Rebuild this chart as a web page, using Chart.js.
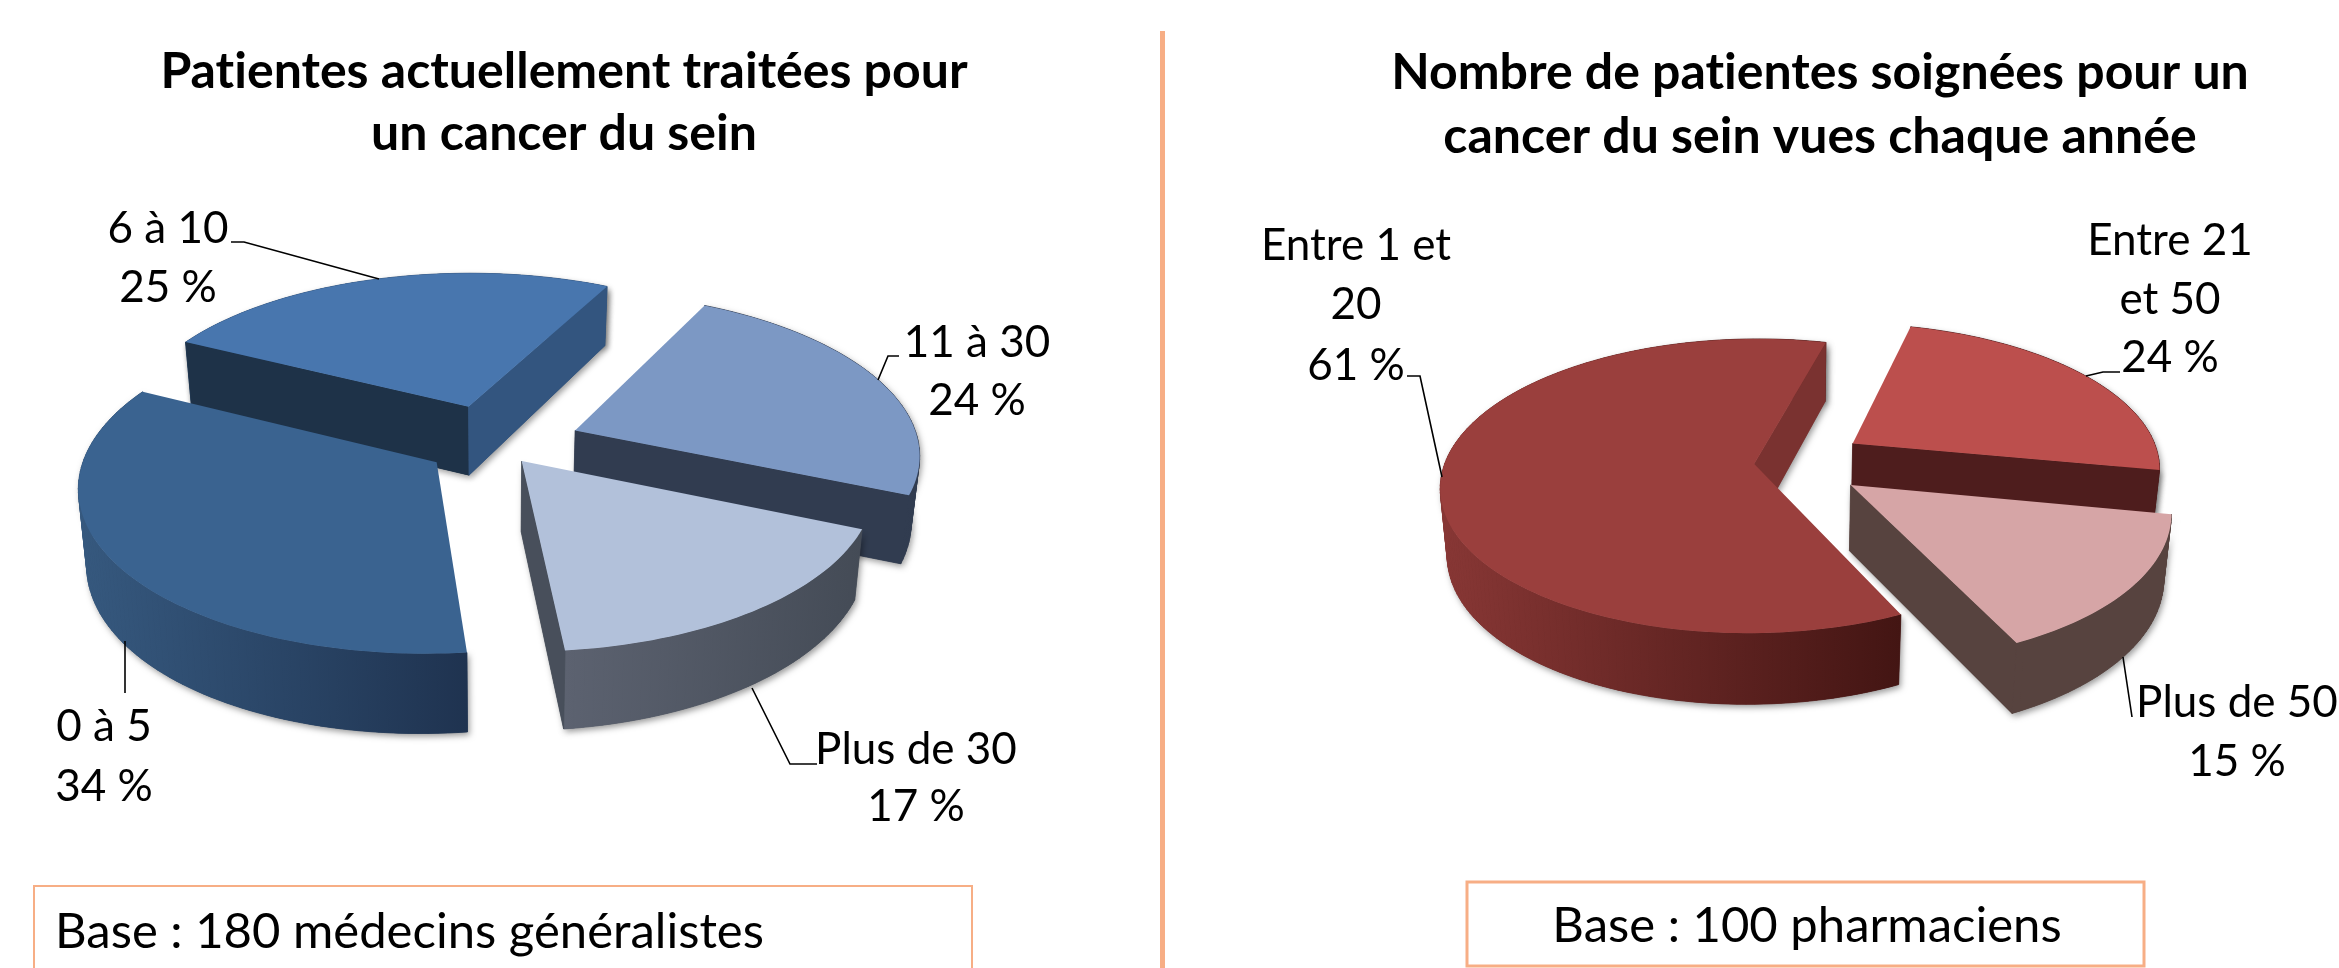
<!DOCTYPE html>
<html><head><meta charset="utf-8">
<script src="https://cdn.jsdelivr.net/npm/chart.js@4"></script>
<style>html,body{margin:0;padding:0;background:#fff;width:2339px;height:968px;overflow:hidden}
canvas{position:absolute;left:0;top:0}</style></head>
<body>
<canvas id="c1" width="2339" height="968"></canvas>
<canvas id="c2" width="2339" height="968"></canvas>
<script>
// ---- data ----
const leftTitle = ["Patientes actuellement traitées pour", "un cancer du sein"];
const leftCategories = ["6 à 10", "11 à 30", "Plus de 30", "0 à 5"];
const leftValues = [25, 24, 17, 34];
const leftBase = "Base : 180 médecins généralistes";

const rightTitle = ["Nombre de patientes soignées pour un", "cancer du sein vues chaque année"];
const rightCategories = ["Entre 1 et 20", "Entre 21 et 50", "Plus de 50"];
const rightValues = [61, 24, 15];
const rightBase = "Base : 100 pharmaciens";

// ---- style / layout ----
const FONT = 'Lato, "Open Sans", sans-serif';
const ORANGE = "#F7AE85";
const leftStyle = {
  rotation: -86.4, explode: [25.1, 25, 13, 20], order: [0, 1, 3, 2],
  view: [494.76, 443.93, 318.17, 63.28, 136.7, -147.45, -0.048, 0.124], depth: [70, -9],
  top: ["#4876AE", "#7C98C4", "#B2C1DA", "#3A6390"],
  startFace: ["#1E3248", "#313C50", "#484F5B", "#1F3350"],
  endFace: ["#33557F", "#313C50", "#484F5B", "#33557F"],
  wall: [["#33557F", "#33557F"], ["#313C50", "#313C50"], ["#5C6270", "#444B56"], ["#36597F", "#1F3350"]],
  titleX: 564, titleY: [72, 134],
  labels: [
    { lines: ["6 à 10"], x: 168, y: 229, pctY: 288 },
    { lines: ["11 à 30"], x: 977, y: 343, pctY: 401 },
    { lines: ["Plus de 30"], x: 916, y: 750, pctY: 807 },
    { lines: ["0 à 5"], x: 104, y: 727, pctY: 787 }
  ],
  leaders: [
    [[231, 242], [244, 242], [379, 279]],
    [[899, 356], [888, 356], [878, 380]],
    [[752, 688], [790, 764], [817, 764]],
    [[125, 641], [125, 693]]
  ],
  box: [34, 886, 938, 90], boxW: 2, baseAlign: "left", baseX: 55, baseY: 932
};
const rightStyle = {
  rotation: 144, explode: [11, 25.3, 25.1], order: [1, 0, 2],
  view: [1788.08, 462.42, 303.09, 27.04, 58.11, -140.77, -0.027, 0.148], depth: [65, -6],
  top: ["#9A3F3D", "#BC4F4D", "#D6A5A6"],
  startFace: ["#7A3230", "#4E1D1D", "#57433F"],
  endFace: ["#7A3230", "#4E1D1D", "#57433F"],
  wall: [["#883735", "#431513"], ["#4E1D1D", "#4E1D1D"], ["#57433F", "#57433F"]],
  titleX: 1820, titleY: [73, 137],
  labels: [
    { lines: ["Entre 1 et", "20"], x: 1356, y: 246, lineGap: 59, pctY: 366 },
    { lines: ["Entre 21", "et 50"], x: 2170, y: 241, lineGap: 59, pctY: 358 },
    { lines: ["Plus de 50"], x: 2237, y: 703, pctY: 762 }
  ],
  leaders: [
    [[1407, 376], [1420, 376], [1442, 477]],
    [[2120, 372], [2103, 372], [2086, 376]],
    [[2123, 657], [2132, 717]]
  ],
  box: [1467, 882, 677, 84], boxW: 3, baseAlign: "center", baseX: 1807, baseY: 926
};

const pie3d = {
  id: "pie3d",
  beforeDatasetsDraw(chart, args, opts) {
    const ctx = chart.ctx, st = opts.style, v = st.view;
    const proj = (pu, pv) => {
      const w = 1 + v[6] * pu + v[7] * pv;
      const x = v[0] + (v[2] * pu + v[4] * pv) / w, y = v[1] + (v[3] * pu + v[5] * pv) / w;
      return { x, y, bx: x + (v[0] - x) * 0.02, by: y + st.depth[0] + st.depth[1] * pv };
    };
    const els = chart.getDatasetMeta(0).data;
    const poly = (pts, bottom) => {
      ctx.beginPath();
      pts.forEach((p, i) => i ? ctx.lineTo(p.x, p.y) : ctx.moveTo(p.x, p.y));
      if (bottom) for (let i = pts.length - 1; i >= 0; i--) ctx.lineTo(pts[i].bx, pts[i].by);
      ctx.closePath();
    };
    st.order.forEach(i => {
      const el = els[i];
      const a0 = el.startAngle, a1 = el.endAngle, mid = (a0 + a1) / 2, o = el.options.offset / 100;
      const ou = o * Math.cos(mid), ov = -o * Math.sin(mid);
      const at = (a, r) => proj(ou + r * Math.cos(a), ov - r * Math.sin(a));
      const apex = proj(ou, ov), arc = [], n = Math.ceil((a1 - a0) * 40);
      for (let k = 0; k <= n; k++) arc.push(at(a0 + (a1 - a0) * k / n, 1));
      const xs = arc.map(p => p.x), x0 = Math.min(...xs), x1 = Math.max(...xs);
      const g = ctx.createLinearGradient(x0, 0, x1, 0);
      g.addColorStop(0, st.wall[i][0]); g.addColorStop(1, st.wall[i][1]);
      // a cut face shows only when the slice's top lies above its edge on screen
      const shows = (end, inner) => {
        const t = at(inner, 0.5), yEdge = apex.y + (end.y - apex.y) * (t.x - apex.x) / (end.x - apex.x);
        return t.y < yEdge;
      };
      const faces = [];
      if (shows(arc[0], a0 + 0.1)) faces.push([[apex, arc[0]], st.startFace[i]]);
      if (shows(arc[n], a1 - 0.1)) faces.push([[apex, arc[n]], st.endFace[i]]);
      const wallSegments = [];
      for (let k = 0; k < n; k++) wallSegments.push([[arc[k], arc[k + 1]], g]);
      const sides = [...wallSegments, ...faces];
      // soft shadow under the whole piece
      ctx.save();
      ctx.shadowColor = "rgba(0,0,0,0.4)"; ctx.shadowBlur = 6; ctx.shadowOffsetX = 2; ctx.shadowOffsetY = 3;
      ctx.fillStyle = st.wall[i][1]; poly(arc, true); ctx.fill();
      faces.forEach(([pts, c]) => { ctx.fillStyle = c; poly(pts, true); ctx.fill(); });
      ctx.restore();
      sides.forEach(([pts, c]) => { ctx.fillStyle = c; ctx.strokeStyle = c; ctx.lineWidth = 0.8; poly(pts, true); ctx.fill(); ctx.stroke(); });
      ctx.fillStyle = st.top[i];
      poly([apex, ...arc], false); ctx.fill();
    });

    // leaders
    ctx.strokeStyle = "#000"; ctx.lineWidth = 1.6;
    st.leaders.forEach(l => {
      ctx.beginPath();
      l.forEach((p, i) => i ? ctx.lineTo(p[0], p[1]) : ctx.moveTo(p[0], p[1]));
      ctx.stroke();
    });

    // texts
    const values = chart.data.datasets[0].data;
    ctx.letterSpacing = "0.01px";
    ctx.fillStyle = "#000"; ctx.textAlign = "center"; ctx.textBaseline = "middle";
    ctx.font = "400 " + opts.labelSize + "px " + FONT;
    st.labels.forEach((l, i) => {
      l.lines.forEach((s, k) => ctx.fillText(s, l.x, l.y + k * (l.lineGap || 0)));
      ctx.fillText(values[i] + " %", l.x, l.pctY);
    });
    ctx.font = "700 " + opts.titleSize + "px " + FONT;
    opts.title.forEach((s, k) => ctx.fillText(s, st.titleX, st.titleY[k]));

    // base box
    ctx.strokeStyle = ORANGE; ctx.lineWidth = st.boxW;
    ctx.strokeRect(st.box[0], st.box[1], st.box[2], st.box[3]);
    ctx.textAlign = st.baseAlign;
    ctx.font = "400 " + opts.baseSize + "px " + FONT;
    ctx.fillStyle = "#000";
    ctx.fillText(opts.base, st.baseX, st.baseY);
    ctx.letterSpacing = "0px";
    return false;
  }
};

function makePie(id, categories, values, style, title, base) {
  return new Chart(document.getElementById(id), {
    type: "pie",
    data: { labels: categories, datasets: [{ data: values, backgroundColor: style.top, offset: style.explode, borderWidth: 0 }] },
    options: {
      responsive: false, animation: false, rotation: style.rotation,
      plugins: {
        legend: { display: false }, tooltip: { enabled: false },
        pie3d: { style, title, base, labelSize: 44, titleSize: 50, baseSize: 49 }
      }
    },
    plugins: [pie3d]
  });
}
makePie("c1", leftCategories, leftValues, leftStyle, leftTitle, leftBase);
makePie("c2", rightCategories, rightValues, rightStyle, rightTitle, rightBase);

// separator between the two panels
const sep = document.createElement("div");
sep.style.cssText = "position:absolute;left:1160px;top:31px;width:5px;height:937px;background:" + ORANGE;
document.body.appendChild(sep);
</script>
</body></html>
